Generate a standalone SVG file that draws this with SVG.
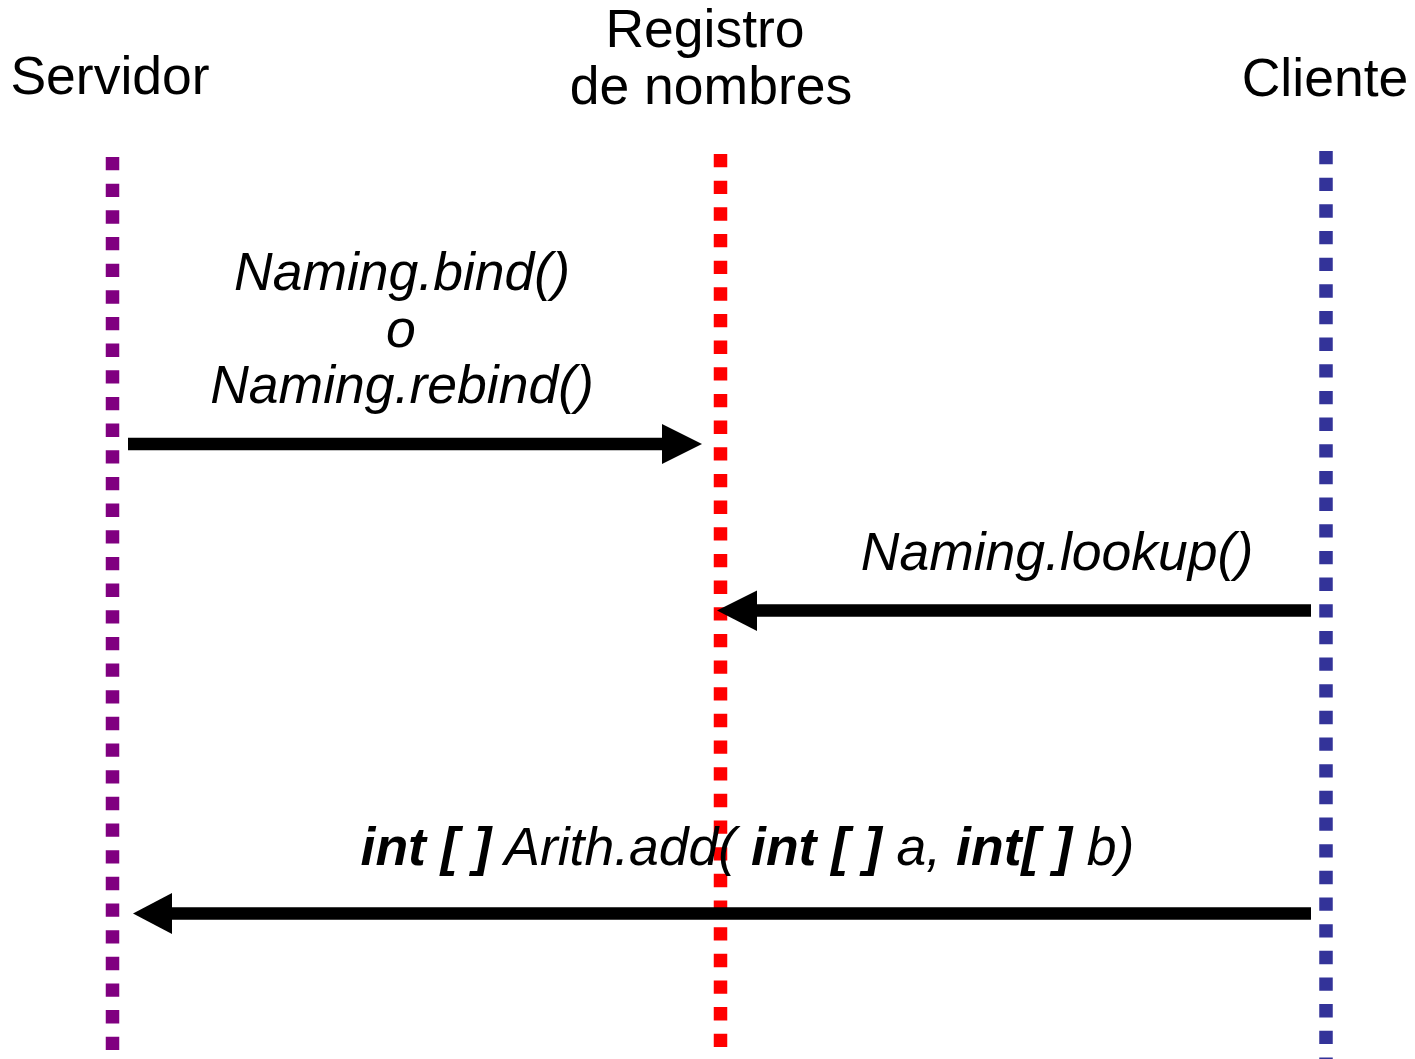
<svg xmlns="http://www.w3.org/2000/svg" width="1415" height="1059" viewBox="0 0 1415 1059">
  <style>
    .title { font-family: "Liberation Sans", Arial, sans-serif; font-size: 53.5px; fill: #000; }
    .msg { font-family: "Liberation Sans", Arial, sans-serif; font-size: 53.5px; font-style: italic; fill: #000; }
    .b { font-weight: bold; }
    .life { stroke-width: 13.5; stroke-dasharray: 13.33 13.33; fill: none; }
    .shaft { stroke: #000; stroke-width: 12.5; fill: none; }
    .head { fill: #000; }
  </style>
  <rect width="1415" height="1059" fill="#fff"/>

  <!-- lifelines with their titles -->
  <g id="servidor">
    <text class="title" x="110" y="94" text-anchor="middle">Servidor</text>
    <line class="life" x1="112.5" y1="157" x2="112.5" y2="1059" stroke="#800080"/>
  </g>
  <g id="registro">
    <text class="title" x="705" y="47" text-anchor="middle">Registro</text>
    <text class="title" x="711" y="104" text-anchor="middle">de nombres</text>
    <line class="life" x1="720.5" y1="154" x2="720.5" y2="1050" stroke="#ff0000"/>
  </g>
  <g id="cliente">
    <text class="title" x="1325" y="96" text-anchor="middle">Cliente</text>
    <line class="life" x1="1326" y1="151" x2="1326" y2="1059" stroke="#333399"/>
  </g>

  <!-- messages -->
  <g id="connectors">
    <g id="bind">
      <line class="shaft" x1="128" y1="444" x2="664" y2="444"/>
      <polygon class="head" points="662,424 702,444 662,464"/>
    </g>
    <g id="lookup">
      <line class="shaft" x1="1311" y1="610.5" x2="755" y2="610.5"/>
      <polygon class="head" points="757,590.5 717,610.5 757,631"/>
    </g>
    <g id="add">
      <line class="shaft" x1="1311" y1="913.5" x2="170" y2="913.5"/>
      <polygon class="head" points="172,893 133,913.5 172,934"/>
    </g>
  </g>

  <g id="labels">
    <text class="msg" x="402" y="290" text-anchor="middle">Naming.bind()</text>
    <text class="msg" x="401" y="347" text-anchor="middle">o</text>
    <text class="msg" x="402" y="403" text-anchor="middle">Naming.rebind()</text>
    <text class="msg" x="1057" y="570" text-anchor="middle">Naming.lookup()</text>
    <text class="msg" x="747.5" y="865" text-anchor="middle"><tspan class="b">int [ ]</tspan> Arith.add( <tspan class="b">int [ ]</tspan> a, <tspan class="b">int[ ]</tspan> b)</text>
  </g>
</svg>
